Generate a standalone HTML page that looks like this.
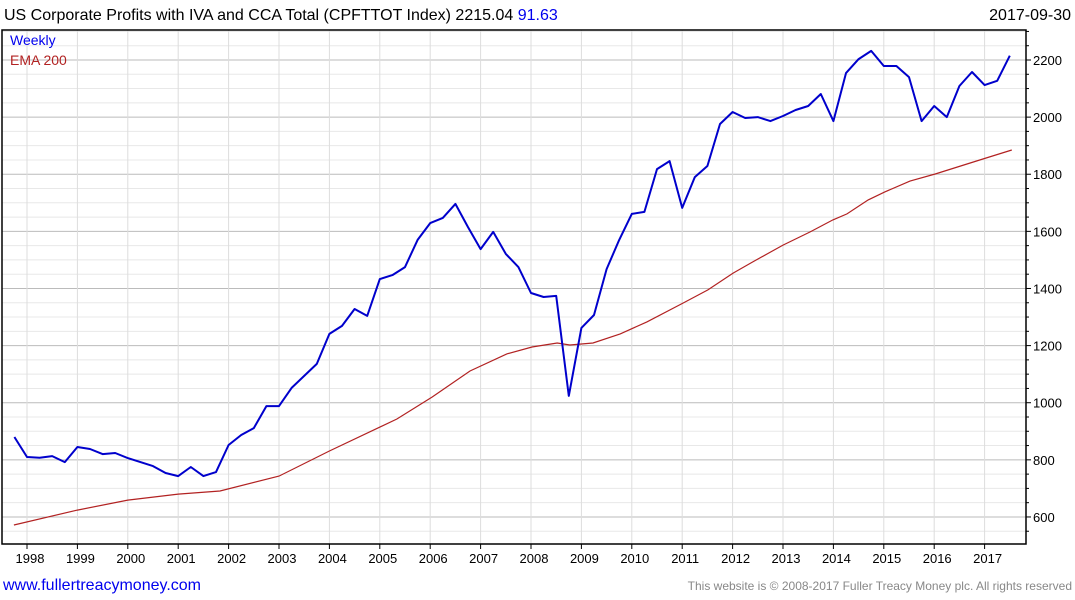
<!DOCTYPE html>
<html><head><meta charset="utf-8"><style>
body{margin:0;background:#fff;width:1075px;height:600px;overflow:hidden;font-family:"Liberation Sans",sans-serif}
svg{display:block}
</style></head><body>
<svg id="chart" width="1075" height="600" font-family="Liberation Sans, sans-serif">
<text x="4" y="20" font-size="16" fill="#000">US Corporate Profits with IVA and CCA Total (CPFTTOT Index) 2215.04 <tspan fill="#0000ee">91.63</tspan></text>
<text x="1071" y="20" font-size="16" text-anchor="end" fill="#000">2017-09-30</text>
<g id="grid"></g>
<g id="series"></g>
<rect x="2" y="30" width="1024" height="514" fill="none" stroke="#000" stroke-width="1.5"/>
<g id="axes"></g>
<text x="10" y="45" font-size="14" fill="#0000ee">Weekly</text>
<text x="10" y="65" font-size="14" fill="#b22222">EMA 200</text>
<text x="3" y="590" font-size="16" fill="#0000ee">www.fullertreacymoney.com</text>
<text x="1072" y="590" font-size="12" text-anchor="end" fill="#888">This website is © 2008-2017 Fuller Treacy Money plc. All rights reserved</text>
</svg>
<script>
const profitStart = 1997.75;
const profitValues = [880,810,807,813,792,845,838,820,824,806,792,778,754,743,775,743,757,852,887,911,988,988,1052,1094,1136,1241,1269,1328,1304,1433,1447,1475,1570,1629,1647,1696,1615,1538,1598,1521,1475,1384,1370,1374,1024,1262,1307,1468,1570,1661,1668,1818,1846,1682,1790,1829,1976,2018,1997,2000,1986,2004,2025,2039,2081,1986,2154,2203,2232,2179,2179,2140,1986,2039,2000,2109,2158,2112,2127,2215];
const emaDates = [1997.74,1999.0,2000.0,2001.0,2001.83,2003.0,2004.0,2005.34,2006.04,2006.79,2007.52,2008.02,2008.52,2008.77,2009.23,2009.77,2010.3,2011.02,2011.51,2012.01,2012.4,2013.0,2013.54,2013.99,2014.27,2014.69,2015.02,2015.52,2016.02,2016.65,2017.03,2017.54];
const emaValues = [572,624,659,680,691,743,831,943,1020,1111,1171,1195,1209,1202,1209,1241,1283,1349,1395,1454,1493,1552,1598,1640,1661,1710,1738,1776,1801,1836,1857,1885];
const yearTicks = [1998,1999,2000,2001,2002,2003,2004,2005,2006,2007,2008,2009,2010,2011,2012,2013,2014,2015,2016,2017];
const yTicks = [600,800,1000,1200,1400,1600,1800,2000,2200];

const NS='http://www.w3.org/2000/svg';
const X = t => 27 + (t - 1998) * 50.4;
const Y = v => 60 + (2200 - v) * 0.2856;
function mk(tag, attrs, parent){const e=document.createElementNS(NS,tag);for(const k in attrs)e.setAttribute(k,attrs[k]);parent.appendChild(e);return e;}
const grid=document.getElementById('grid'), axes=document.getElementById('axes'), series=document.getElementById('series');

for(let v=550; v<=2300; v+=50){
  const y=Y(v); if(y<30||y>544) continue;
  const major = v%200===0;
  const l=mk('line',{x1:2,x2:1026,y1:y,y2:y,stroke:major?'#bbbbbb':'#e8e8e8','stroke-width':1},grid);
  
  
  const t=mk('line',{x1:1026,x2:major?1031:1029,y1:y,y2:y,stroke:'#000'},axes);
  
  
}
yTicks.forEach(v=>{
  const t=mk('text',{x:1033,y:Y(v)+5,'font-size':13,fill:'#000'},axes);
  t.textContent=v;
  
  
});
yearTicks.forEach(yr=>{
  const x=X(yr);
  const g=mk('line',{x1:x,x2:x,y1:30,y2:544,stroke:'#dddddd'},grid);
  
  
  const t=mk('line',{x1:x,x2:x,y1:544,y2:549,stroke:'#000'},axes);
  
  
  const l=mk('text',{x:x+3,y:563,'font-size':13,'text-anchor':'middle',fill:'#000'},axes);
  l.textContent=yr;
  
  
});
const emaPts=emaDates.map((d,i)=>X(d).toFixed(1)+','+Y(emaValues[i]).toFixed(1)).join(' ');
const ema=mk('polyline',{points:emaPts,fill:'none',stroke:'#b22222','stroke-width':1.2},series);


const pPts=profitValues.map((v,i)=>X(profitStart+i*0.25).toFixed(1)+','+Y(v).toFixed(1)).join(' ');
const pl=mk('polyline',{points:pPts,fill:'none',stroke:'#0000cc','stroke-width':2,'stroke-linejoin':'round'},series);


</script>
</body></html>
